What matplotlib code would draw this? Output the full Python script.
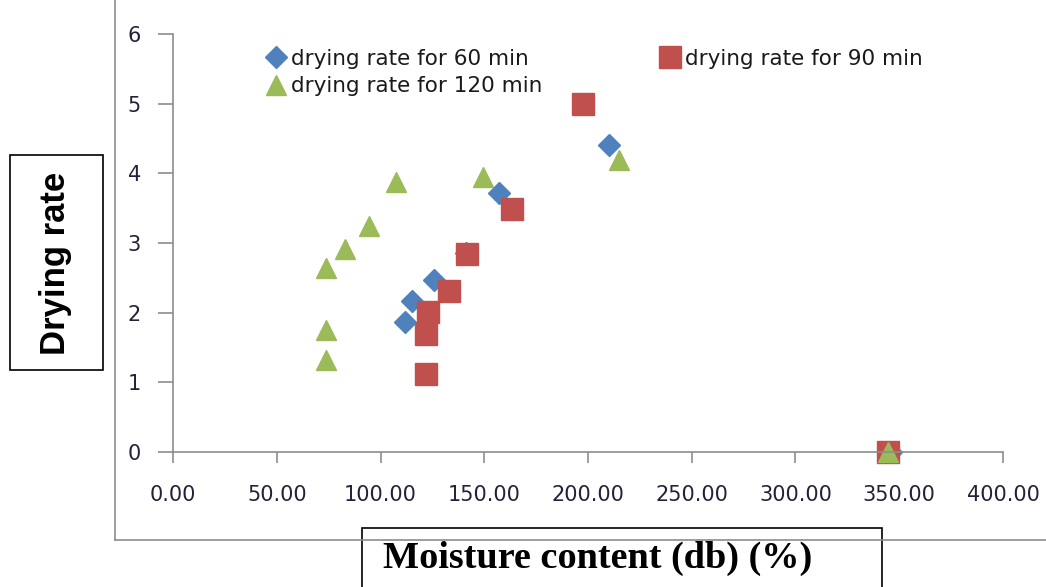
import matplotlib
matplotlib.use('Agg')
import matplotlib.pyplot as plt
from matplotlib.lines import Line2D
from matplotlib.patches import Rectangle

# moisture content (db, %) and drying rate
mc_60 = [346.0, 210.0, 157.0, 141.0, 126.0, 115.0, 112.0]
rate_60 = [0.0, 4.40, 3.72, 2.85, 2.47, 2.17, 1.86]

mc_90 = [344.5, 197.5, 163.5, 141.5, 133.0, 123.0, 122.0, 122.0]
rate_90 = [0.0, 5.00, 3.49, 2.84, 2.31, 2.01, 1.69, 1.12]

mc_120 = [344.5, 215.0, 149.5, 107.5, 94.5, 83.0, 73.5, 73.5, 73.5]
rate_120 = [0.0, 4.19, 3.95, 3.87, 3.24, 2.91, 2.64, 1.75, 1.32]

x_ticks = [0, 50, 100, 150, 200, 250, 300, 350, 400]
y_ticks = [0, 1, 2, 3, 4, 5, 6]

blue = '#4F81BD'
red = '#C0504D'
green = '#9BBB59'
grey = '#8C8C8C'
W, H = 1046.0, 587.0

fig = plt.figure(figsize=(10.46, 5.87), dpi=100)
ax = fig.add_axes([173 / W, 1 - 452 / H, 830 / W, 418 / H])

# chart area border (only left and bottom edges are visible)
fig.add_artist(Line2D([115 / W, 115 / W], [1.0, 1 - 540 / H], color=grey, lw=1.2))
fig.add_artist(Line2D([115 / W, 1.0], [1 - 540 / H, 1 - 540 / H], color=grey, lw=1.2))

h60, = ax.plot(mc_60, rate_60, 'D', color=blue, ms=11, ls='none', clip_on=False)
h90, = ax.plot(mc_90, rate_90, 's', color=red, ms=15.5, ls='none', clip_on=False)
h120, = ax.plot(mc_120, rate_120, '^', color=green, ms=15, ls='none', clip_on=False)

ax.set_xlim(0, 400)
ax.set_ylim(0, 6)
ax.set_xticks(x_ticks)
ax.set_xticklabels(['%.2f' % v for v in x_ticks])
ax.set_yticks(y_ticks)

for side in ['top', 'right']:
    ax.spines[side].set_visible(False)
for side in ['left', 'bottom']:
    ax.spines[side].set_color(grey)
    ax.spines[side].set_linewidth(1.2)
ax.tick_params(axis='both', colors=grey, width=1.2, direction='out',
               labelcolor='#22223A', labelsize=15)
ax.tick_params(axis='x', length=8, pad=16)
ax.tick_params(axis='y', length=11, pad=12)

# legend: first column 60 + 120, second column 90
leg = ax.legend([h60, h120, h90],
                ['drying rate for 60 min', 'drying rate for 120 min', 'drying rate for 90 min'],
                ncol=2, loc='upper left', bbox_to_anchor=(0.105, 0.985),
                frameon=False, handlelength=0.7, handletextpad=0.35,
                columnspacing=5.55, labelspacing=0.35, borderaxespad=0,
                prop={'size': 15.5})
for t in leg.get_texts():
    t.set_color('#1A1A1A')

# axis titles in boxes
fig.add_artist(Rectangle((10 / W, 1 - 370 / H), 93 / W, 215 / H, transform=fig.transFigure,
                         facecolor='white', edgecolor='black', lw=1.2))
fig.text(56 / W, 1 - 263 / H, 'Drying rate', rotation=90, ha='center', va='center',
         fontsize=25, fontweight='bold', family=['Liberation Sans', 'DejaVu Sans'])
fig.add_artist(Rectangle((362 / W, -0.05), 520 / W, 0.05 + (587 - 528) / H,
                         transform=fig.transFigure, facecolor='white',
                         edgecolor='black', lw=1.2))
fig.text(598 / W, 1 - 558 / H, 'Moisture content (db) (%)', ha='center', va='center',
         fontsize=27.5, fontweight='bold', family=['Liberation Serif', 'DejaVu Serif'])

fig.savefig('out.png', dpi=100)
